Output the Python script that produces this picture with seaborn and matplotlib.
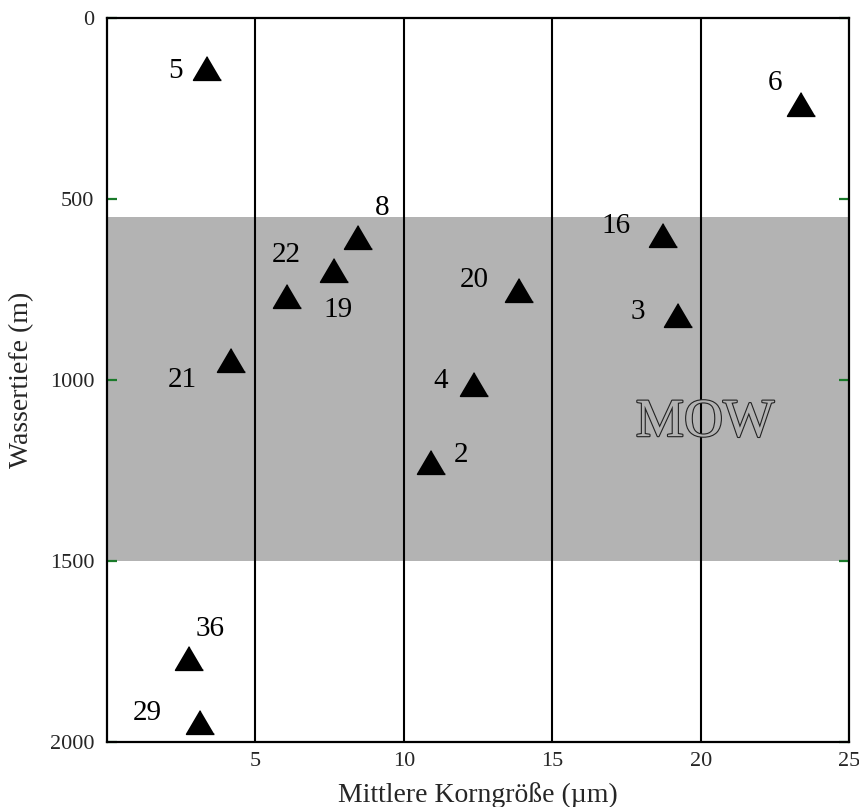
import matplotlib
matplotlib.use("Agg")
import matplotlib.pyplot as plt
import matplotlib.patheffects as pe
import seaborn as sns
import pandas as pd

# ---- data ----
stations = ["5", "6", "8", "16", "22", "19", "20", "3", "21", "4", "2", "36", "29"]
grain_size = [3.37, 23.37, 8.45, 18.71, 6.05, 7.66, 13.88, 19.23, 4.18, 12.36, 10.91, 2.76, 3.12]
depth = [138, 237, 606, 598, 768, 697, 751, 819, 944, 1012, 1226, 1767, 1945]
# label offsets from marker centre (pixels, +x right, +y up)
label_dx = [-32, -26, 24, -47, 0, 4, -45, -40, -49, -33, 30, 21, -52]
label_dy = [0, 24, 32, 12, 44, -37, 13, 6, -17, 6, 10, 32, 12]

x_ticks = [5, 10, 15, 20, 25]
y_ticks = [0, 500, 1000, 1500, 2000]
mow_top, mow_bottom = 550, 1500
mow_label = "MOW"
mow_pos = (20.14, 1118)

df = pd.DataFrame({"station": stations, "size": grain_size, "depth": depth})

sns.set_theme(style="white")
plt.rcParams["font.family"] = ["Liberation Serif", "DejaVu Serif"]

fig = plt.figure(figsize=(8.59, 8.07), dpi=100)
ax = fig.add_axes([107 / 859, 1 - 742.3 / 807, (849.3 - 107) / 859, (742.3 - 18) / 807])

ax.axhspan(mow_top, mow_bottom, color="#b3b3b3", zorder=0, lw=0)
for xv in x_ticks[:-1]:
    ax.axvline(xv, color="black", lw=1.5, zorder=1)

tri = [(0, 0.85), (-1, -0.85), (1, -0.85)]
sns.scatterplot(data=df, x="size", y="depth", marker=tri, s=20 ** 2,
                color="black", edgecolor="black", linewidth=1.2, ax=ax, zorder=3, legend=False)
for coll in ax.collections:
    try:
        coll.set_joinstyle("round")
    except Exception:
        pass

for st, xv, yv, dx, dy in zip(stations, grain_size, depth, label_dx, label_dy):
    ax.annotate(st, (xv, yv), xytext=(dx, dy), textcoords="offset pixels",
                ha="center", va="center_baseline", fontsize=21, color="black", zorder=4)

ax.text(mow_pos[0], mow_pos[1], mow_label, ha="center", va="center", fontsize=39,
        color="#b3b3b3", zorder=2,
        path_effects=[pe.withStroke(linewidth=1.6, foreground="#222222")])

ax.set_xlim(0, 25)
ax.set_ylim(2000, 0)
ax.set_xticks(x_ticks)
ax.set_yticks(y_ticks)
ax.tick_params(axis="x", length=0, labelsize=16, pad=7)
ax.tick_params(axis="y", which="both", direction="in", length=7, width=1.6,
               color="#1a7a2a", labelsize=16, right=True, left=True, pad=9)
for s in ax.spines.values():
    s.set_color("black")
    s.set_linewidth(1.6)

ax.set_xlabel("Mittlere Korngröße (µm)", fontsize=20)
ax.set_ylabel("Wassertiefe (m)", fontsize=20)
ax.xaxis.set_label_coords(0.5, (742.3 - 795) / 724.3)
ax.xaxis.label.set_va("center")
ax.yaxis.set_label_coords((22 - 107) / 742.3, 0.5)
ax.yaxis.label.set_va("center")

fig.savefig("out.png", dpi=100)
